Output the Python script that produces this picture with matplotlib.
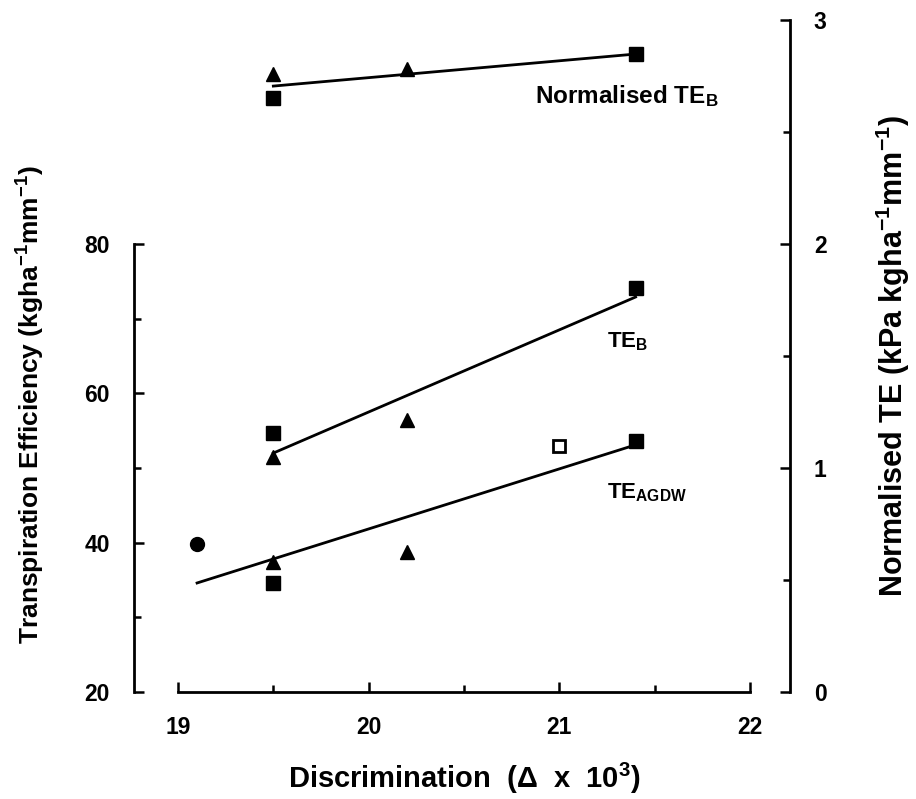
import matplotlib
matplotlib.use("Agg")
import matplotlib.pyplot as plt

plt.rcParams['font.family'] = ['Liberation Sans', 'DejaVu Sans']
plt.rcParams['font.weight'] = 'bold'
plt.rcParams['axes.labelweight'] = 'bold'
plt.rcParams['mathtext.fontset'] = 'custom'
plt.rcParams['mathtext.rm'] = 'Liberation Sans:bold'
plt.rcParams['mathtext.it'] = 'Liberation Sans:bold'
plt.rcParams['mathtext.bf'] = 'Liberation Sans:bold'
plt.rcParams['mathtext.default'] = 'rm'

# transpiration efficiency vs carbon isotope discrimination
# normalised TE_B (right axis, kPa kg ha-1 mm-1)
norm_sq_x = [19.5, 21.4]
norm_sq_y = [2.65, 2.85]
norm_tri_x = [19.5, 20.2]
norm_tri_y = [2.76, 2.78]
norm_fit_x = [19.5, 21.4]
norm_fit_y = [2.705, 2.848]

# TE_B (left axis, kg ha-1 mm-1)
teb_sq_x = [19.5, 21.4]
teb_sq_y = [54.7, 74.1]
teb_tri_x = [19.5, 20.2]
teb_tri_y = [51.5, 56.4]
teb_fit_x = [19.5, 21.4]
teb_fit_y = [52.0, 72.9]

# TE_AGDW (left axis)
agdw_sq_x = [19.5, 21.4]
agdw_sq_y = [34.6, 53.6]
agdw_tri_x = [19.5, 20.2]
agdw_tri_y = [37.4, 38.8]
agdw_circ_x = [19.1]
agdw_circ_y = [39.8]
agdw_open_x = [21.0]
agdw_open_y = [52.9]
agdw_fit_x = [19.1, 21.4]
agdw_fit_y = [34.6, 53.1]

W, H = 916, 799
fig = plt.figure(figsize=(W / 100, H / 100), dpi=100)
ax = fig.add_axes([178 / W, (H - 692) / H, 572 / W, 672 / H])
ax2 = ax.twinx()

lw = 2.0
sq = dict(marker='s', color='black', ms=9.5, ls='none')
tri = dict(marker='^', color='black', ms=9.5, ls='none')

ax.plot(teb_fit_x, teb_fit_y, color='black', lw=lw)
ax.plot(teb_sq_x, teb_sq_y, **sq)
ax.plot(teb_tri_x, teb_tri_y, **tri)

ax.plot(agdw_fit_x, agdw_fit_y, color='black', lw=lw)
ax.plot(agdw_sq_x, agdw_sq_y, **sq)
ax.plot(agdw_tri_x, agdw_tri_y, **tri)
ax.plot(agdw_circ_x, agdw_circ_y, marker='o', color='black', ms=10, ls='none')
ax.plot(agdw_open_x, agdw_open_y, marker='s', mfc='white', mec='black',
        mew=2, ms=8, ls='none')

ax2.plot(norm_fit_x, norm_fit_y, color='black', lw=lw)
ax2.plot(norm_sq_x, norm_sq_y, **sq)
ax2.plot(norm_tri_x, norm_tri_y, **tri)

ax.set_xlim(19, 22)
ax.set_ylim(20, 110)
ax2.set_ylim(0, 3)

ax.set_xticks([19, 20, 21, 22])
ax.set_xticks([19.5, 20.5, 21.5], minor=True)
ax.set_yticks([20, 40, 60, 80])
ax.set_yticks([30, 50, 70], minor=True)
ax2.set_yticks([0, 1, 2, 3])
ax2.set_yticks([0.5, 1.5, 2.5], minor=True)

for a in (ax, ax2):
    a.tick_params(which='major', direction='in', length=7, width=1.8,
                  pad=17, labelsize=16.5)
    a.tick_params(which='minor', direction='in', length=5, width=1.8)
    for s in a.spines.values():
        s.set_linewidth(2.0)

ax.spines['top'].set_visible(False)
ax.spines['right'].set_visible(False)
ax.spines['left'].set_position(('outward', 32))
ax.spines['left'].set_bounds(20, 80)
ax2.spines['top'].set_visible(False)
ax2.spines['left'].set_visible(False)
ax2.spines['bottom'].set_visible(False)
ax2.spines['right'].set_position(('outward', 29))

ax.set_xlabel('Discrimination  (Δ  x  10$^3$)', fontsize=21, va='center')
ax.xaxis.set_label_coords(0.5, -0.128)
ax.set_ylabel('Transpiration Efficiency (kgha$^{-1}$mm$^{-1}$)', fontsize=19,
              va='center', ha='center')
ax.yaxis.set_label_coords(-0.257, 0.427)
ax2.set_ylabel('Normalised TE (kPa kgha$^{-1}$mm$^{-1}$)', fontsize=22,
               va='center', ha='center')
ax2.yaxis.set_label_coords(1.25, 0.50)

ax2.text(20.87, 2.66, 'Normalised TE$_B$', fontsize=17.5, va='center', ha='left')
ax.text(21.25, 66.9, 'TE$_B$', fontsize=16, va='center', ha='left')
ax.text(21.25, 46.65, 'TE$_{AGDW}$', fontsize=16, va='center', ha='left')

fig.savefig('out.png', dpi=100)
